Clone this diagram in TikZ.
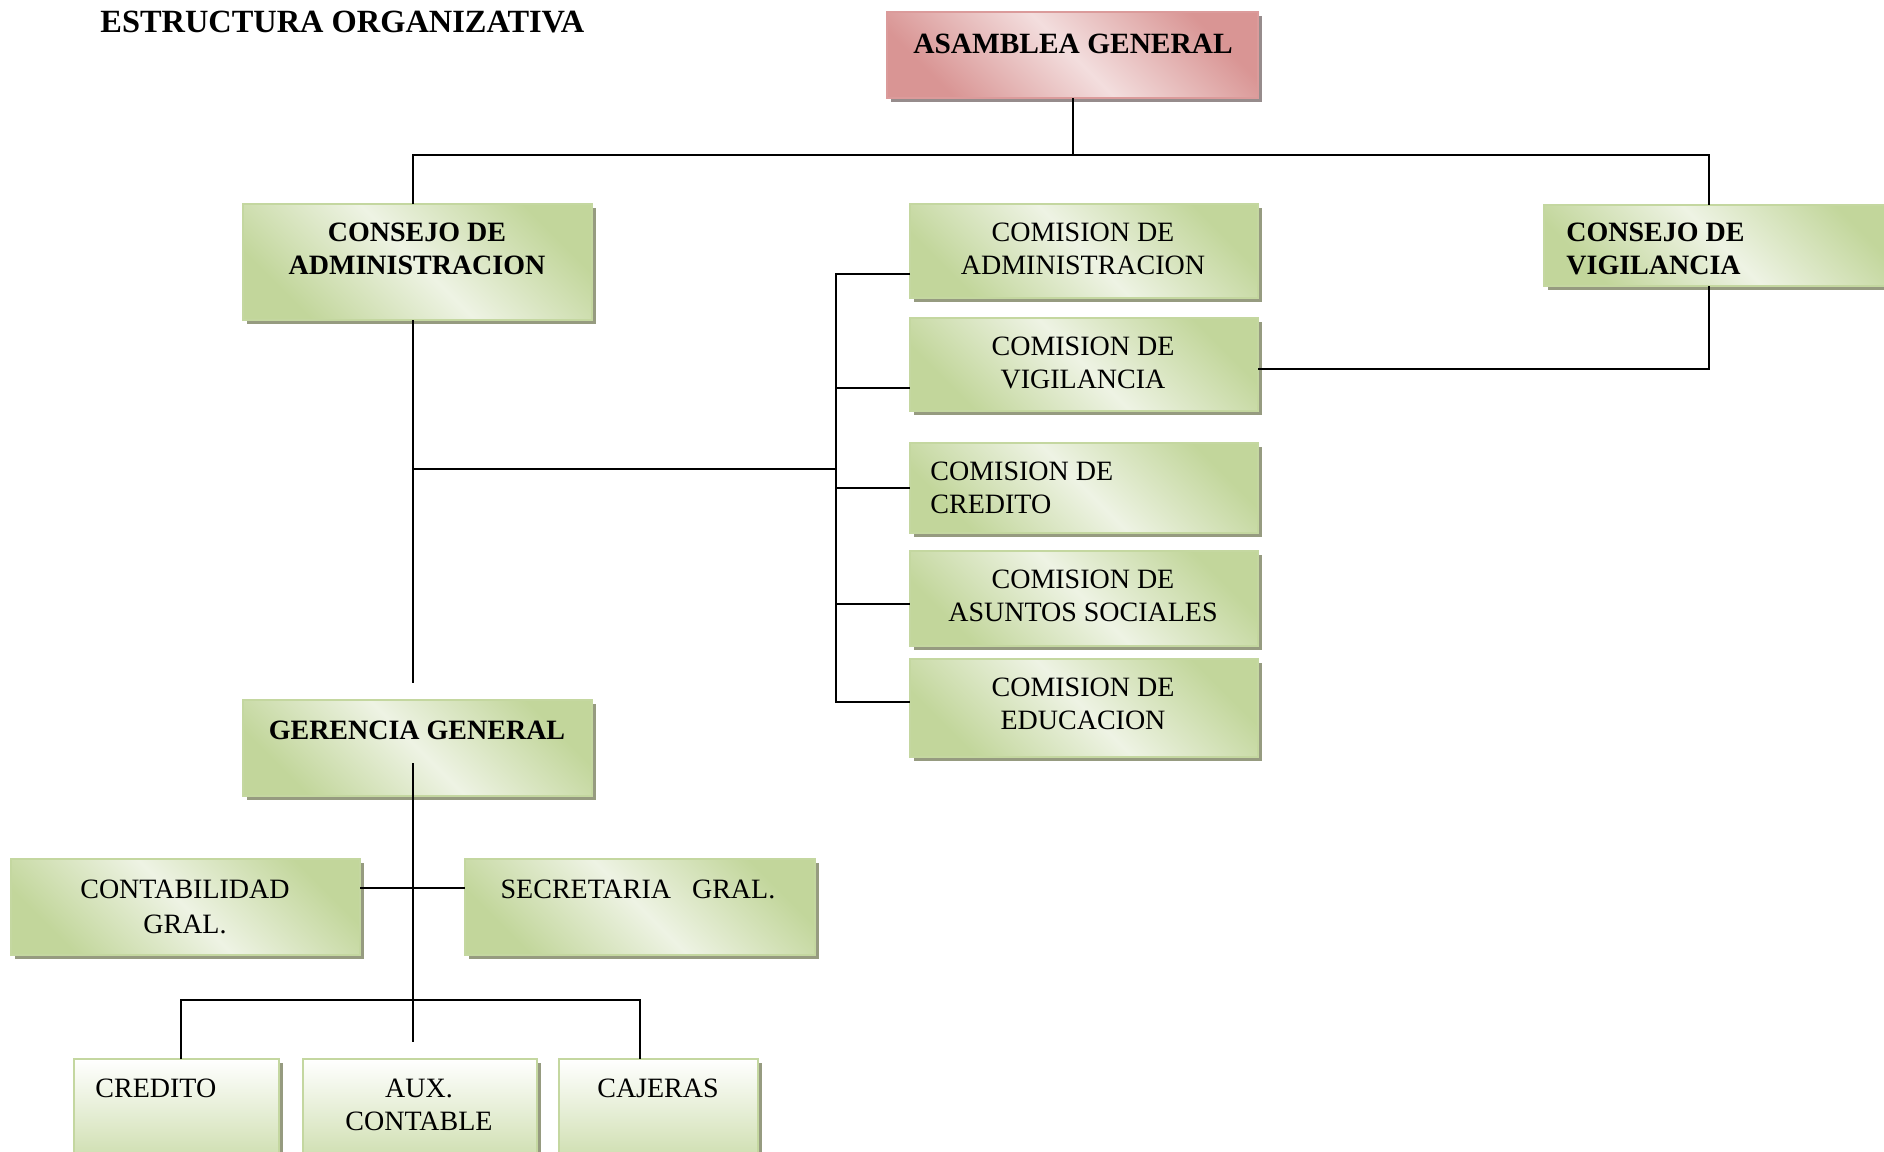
\documentclass[tikz,border=0pt]{standalone}
\usepackage{fontspec}
\setmainfont{Liberation Serif}
\definecolor{gdark}{RGB}{194,214,155}
\definecolor{glight}{RGB}{238,243,228}
\definecolor{gborder}{RGB}{196,215,160}
\definecolor{rdark}{RGB}{217,149,148}
\definecolor{rlight}{RGB}{243,222,222}
\definecolor{rborder}{RGB}{219,155,155}
\definecolor{gshadow}{RGB}{150,155,128}
\definecolor{rshadow}{RGB}{150,140,140}
\newcommand\mybox[6]{\node[#1, minimum width={(#5-#3)*0.5pt}, minimum height={(#6-#4)*0.5pt}] (#2) at ({(#3+#5)/2},{(#4+#6)/2}) {};}
\begin{document}
\begin{tikzpicture}[x=0.5pt,y=-0.5pt,
  gbox/.style={draw=gborder, line width=1pt, inner sep=0pt, outer sep=0pt,
    top color=gdark, bottom color=gdark, middle color=glight, shading angle=-45,
    preaction={fill=gshadow, transform canvas={xshift=2pt,yshift=-2pt}}},
  vbox/.style={draw=gborder, line width=1pt, inner sep=0pt, outer sep=0pt,
    top color=white, bottom color=gdark,
    preaction={fill=gshadow, transform canvas={xshift=2pt,yshift=-2pt}}},
  rbox/.style={draw=rborder, line width=1pt, inner sep=0pt, outer sep=0pt,
    top color=rdark, bottom color=rdark, middle color=rlight, shading angle=-45,
    preaction={fill=rshadow, transform canvas={xshift=2pt,yshift=-2pt}}},
  txt/.style={font=\fontsize{14}{16.2}\selectfont, align=center, inner sep=0pt},
  btxt/.style={txt, font=\fontsize{14}{16.2}\selectfont\bfseries},
  ltxt/.style={txt, align=left, anchor=west},
  lbtxt/.style={btxt, align=left, anchor=west},
  conn/.style={line width=1pt, black}]
\useasboundingbox (0,0) rectangle (1884,1151);
\clip (0,0) rectangle (1884,1151);
\fill[white] (0,0) rectangle (1884,1151);

% title
\node[btxt, font=\fontsize{16.2}{19}\selectfont\bfseries, anchor=west] (title) at (100,22) {ESTRUCTURA ORGANIZATIVA};

% boxes
\mybox{rbox}{asam}{887}{12}{1258}{98}
\mybox{gbox}{cadmin}{243}{204}{592}{320}
\mybox{gbox}{cvig}{1544}{205}{1900}{286}
\mybox{gbox}{com1}{910}{204}{1258}{298}
\mybox{gbox}{com2}{910}{318}{1258}{411}
\mybox{gbox}{com3}{910}{443}{1258}{533}
\mybox{gbox}{com4}{910}{551}{1258}{646}
\mybox{gbox}{com5}{910}{659}{1258}{757}
\mybox{gbox}{ger}{243}{700}{592}{796}
\mybox{gbox}{cont}{11}{859}{360}{955}
\mybox{gbox}{secr}{465}{859}{815}{955}
\mybox{vbox}{credito}{74}{1059}{279}{1185}
\mybox{vbox}{aux}{303}{1059}{537}{1185}
\mybox{vbox}{cajeras}{559}{1059}{758}{1185}

% texts
\node[btxt, font=\fontsize{14.7}{17}\selectfont\bfseries] (asam-t) at (1073,44) {ASAMBLEA GENERAL};
\node[btxt] (cadmin-t) at (417,249) {CONSEJO DE\\ADMINISTRACION};
\node[lbtxt] (cvig-t) at (1566,249) {CONSEJO DE\\VIGILANCIA};
\node[txt] (com1-t) at (1083,249) {COMISION DE\\ADMINISTRACION};
\node[txt] (com2-t) at (1083,363) {COMISION DE\\VIGILANCIA};
\node[ltxt] (com3-t) at (930,488) {COMISION DE\\CREDITO};
\node[txt] (com4-t) at (1083,596) {COMISION DE\\ASUNTOS SOCIALES};
\node[txt] (com5-t) at (1083,704) {COMISION DE\\EDUCACION};
\node[btxt] (ger-t) at (417,730) {GERENCIA GENERAL};
\node[txt, font=\fontsize{14}{17.5}\selectfont] (cont-t) at (185,907) {CONTABILIDAD\\GRAL.};
\node[txt] (secr-t) at (638,889) {SECRETARIA\ \ \ GRAL.};
\node[ltxt] (credito-t) at (95,1088) {CREDITO};
\node[txt] (aux-t) at (419,1105) {AUX.\\CONTABLE};
\node[txt] (cajeras-t) at (658,1088) {CAJERAS};

% connectors
\coordinate (hA) at (413,155);
\coordinate (hB) at (1709,155);
\draw[conn] (asam.south) -- (asam.south |- hA);
\draw[conn] (hA |- cadmin.north) -- (hA) -- (hB) -- (hB |- cvig.north);
\coordinate (g1) at (413,683);
\draw[conn] (hA |- cadmin.south) -- (g1);
\coordinate (m1) at (413,469);
\coordinate (m2) at (836,469);
\draw[conn] (m1) -- (m2);
\coordinate (b1) at (836,274);
\coordinate (b2) at (836,388);
\coordinate (b3) at (836,488);
\coordinate (b4) at (836,604);
\coordinate (b5) at (836,702);
\draw[conn] (b1 -| com1.west) -- (b1) -- (b5) -- (b5 -| com5.west);
\draw[conn] (b2) -- (b2 -| com2.west);
\draw[conn] (b3) -- (b3 -| com3.west);
\draw[conn] (b4) -- (b4 -| com4.west);
\coordinate (v1) at (1709,369);
\draw[conn] (hB |- cvig.south) -- (v1) -- (v1 -| com2.east);
\coordinate (g2) at (413,763);
\coordinate (g3) at (413,1042);
\draw[conn] (g2) -- (g3);
\coordinate (s1) at (413,888);
\draw[conn] (s1 -| cont.east) -- (s1 -| secr.west);
\coordinate (c1) at (181,1000);
\coordinate (c2) at (640,1000);
\draw[conn] (c1 |- credito.north) -- (c1) -- (c2) -- (c2 |- cajeras.north);
\end{tikzpicture}
\end{document}
